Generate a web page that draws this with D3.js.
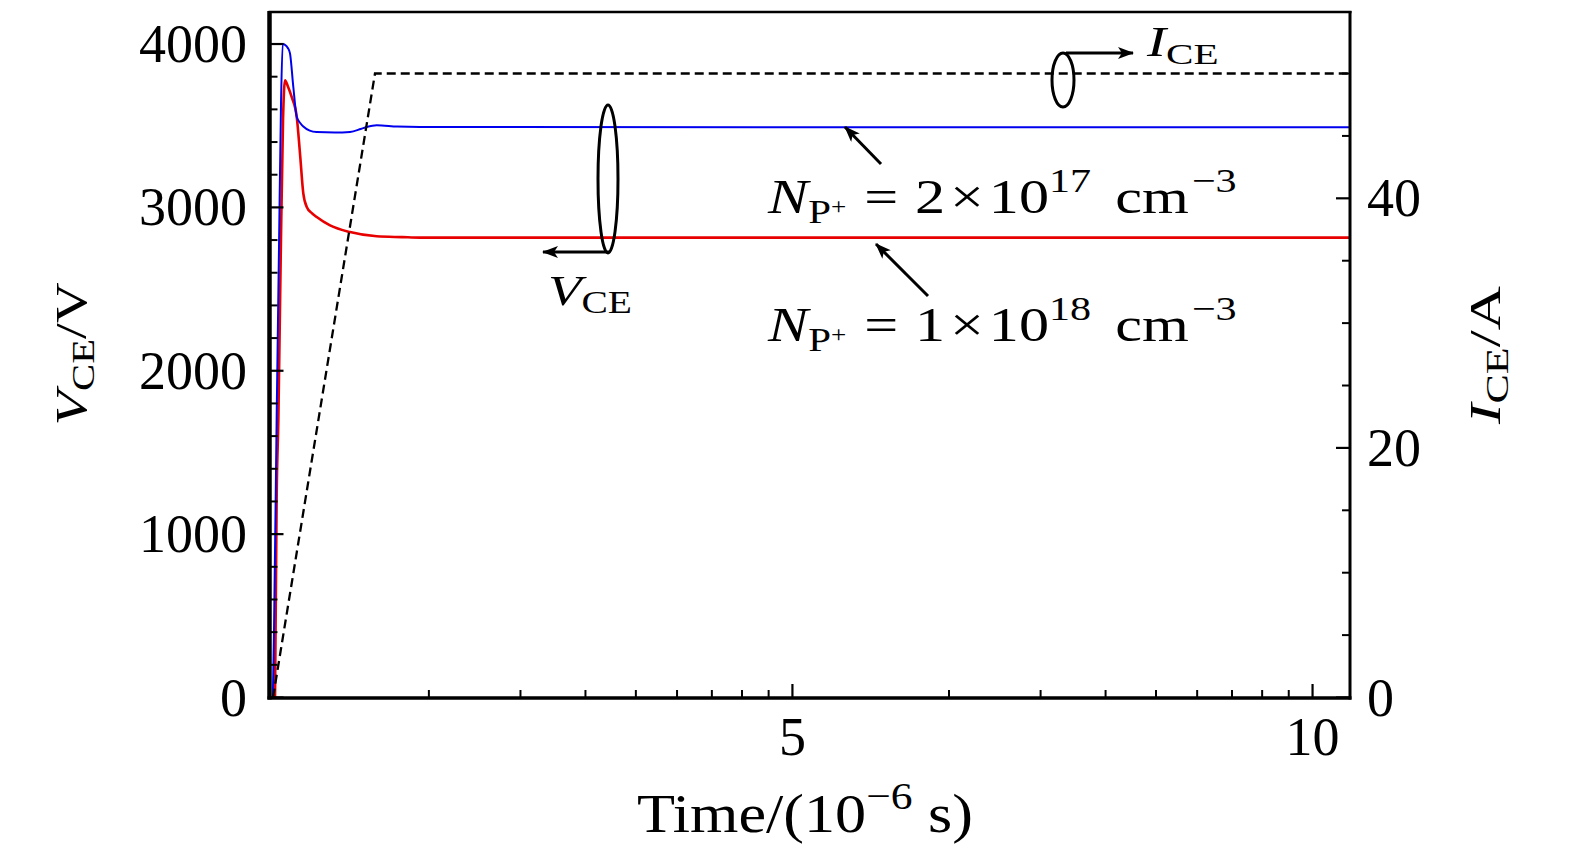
<!DOCTYPE html>
<html>
<head>
<meta charset="utf-8">
<script src="https://cdn.jsdelivr.net/npm/d3@7"></script>
<style>
  html, body { margin: 0; padding: 0; background: #fff; }
  svg { display: block; }
  text { font-family: "Liberation Serif", "Times New Roman", serif; fill: #000; }
</style>
</head>
<body>
<svg id="chart" width="1575" height="856"></svg>
<script>
// ---------------- DATA ----------------
// N_P+ = 2e17 cm^-3 (blue): time (us), V_CE (V)
const timeBlue = [0.005, 0.016, 0.042, 0.064, 0.084, 0.100, 0.150, 0.170, 0.202, 0.235, 0.270, 0.298, 0.360, 0.426, 0.600, 0.747, 0.850, 0.907, 1.004, 1.200, 1.420, 10.35];
const vceBlue  = [0,     390,   1720,  2740,  3650,  4000,  3975,  3943,  3737,  3553,  3515,  3495,  3470,  3461,  3458,  3462,  3480,  3492,  3503,  3495,  3492,  3490];
// N_P+ = 1e18 cm^-3 (red)
const timeRed  = [0.026, 0.042, 0.058, 0.081, 0.103, 0.122, 0.150, 0.186, 0.235, 0.266, 0.298, 0.331, 0.380, 0.427, 0.555, 0.747, 1.004, 1.250, 1.420, 10.35];
const vceRed   = [0,     1237,  1696,  2707,  3533,  3778,  3740,  3676,  3553,  3331,  3086,  3003,  2965,  2941,  2890,  2849,  2823,  2818,  2815,  2815];
// I_CE (dashed), A
const timeI    = [0.007, 0.987, 10.35];
const iCE      = [0,     50,    50];

const xTickValues = [5, 10];
const xTickLabels = ["5", "10"];
const yLeftTickValues = [0, 1000, 2000, 3000, 4000];
const yLeftTickLabels = ["0", "1000", "2000", "3000", "4000"];
const yRightTickValues = [0, 20, 40];
const yRightTickLabels = ["0", "20", "40"];

// ---------------- LAYOUT ----------------
const L = 269.5, R = 1350, T = 12, B = 698;
const svg = d3.select("#chart");

const x = d3.scaleLinear().domain([-0.027, 10.36]).range([L, R]);
const yL = d3.scaleLinear().domain([0, 4196]).range([697.5, T]);
const yR = d3.scaleLinear().domain([0, 54.93]).range([697.5, T]);
// minor ticks on the time axis follow a logarithmic pattern (as in the original figure)
const xLog = d3.scaleLog().domain([1, 100]).range([x(0), x(10)]);

const MAJ = 14, MIN = 8;

// ---------- curves ----------
const line = (xs, ys, sc) => d3.line()
  .x((d, i) => x(xs[i]))
  .y((d, i) => sc(ys[i]))
  .curve(d3.curveMonotoneX)(xs);

svg.append("path").attr("d", line(timeRed, vceRed, yL))
  .attr("fill", "none").attr("stroke", "#e80000").attr("stroke-width", 2.6);
svg.append("path").attr("d", line(timeBlue, vceBlue, yL))
  .attr("fill", "none").attr("stroke", "#0000ee").attr("stroke-width", 2);
svg.append("path").attr("d", d3.line().x((d,i)=>x(timeI[i])).y((d,i)=>yR(iCE[i]))(timeI))
  .attr("fill", "none").attr("stroke", "#000").attr("stroke-width", 2.3)
  .attr("stroke-dasharray", "9,5");

// ---------- axes ----------
const ax = svg.append("g");
const TICK_FS = 54;
// bottom
const xMinor = xLog.ticks().filter(v => ![1, 10, 100].includes(v));
ax.selectAll(".xmin").data(xMinor).enter().append("line")
  .attr("x1", d => xLog(d)).attr("x2", d => xLog(d))
  .attr("y1", B).attr("y2", B - MIN).attr("stroke", "#000").attr("stroke-width", 2);
ax.selectAll(".xmaj").data(xTickValues).enter().append("line")
  .attr("x1", d => x(d)).attr("x2", d => x(d))
  .attr("y1", B).attr("y2", B - MAJ).attr("stroke", "#000").attr("stroke-width", 2.2);
ax.selectAll(".xlab").data(xTickValues).enter().append("text")
  .attr("x", d => x(d)).attr("y", 755).attr("text-anchor", "middle")
  .attr("font-size", TICK_FS).text((d, i) => xTickLabels[i]);

// left
const yLMinor = d3.range(200, 4196, 200).filter(v => v % 1000 !== 0);
ax.selectAll(".ylmin").data(yLMinor).enter().append("line")
  .attr("x1", L).attr("x2", L + MIN).attr("y1", d => yL(d)).attr("y2", d => yL(d))
  .attr("stroke", "#000").attr("stroke-width", 2);
ax.selectAll(".ylmaj").data(yLeftTickValues).enter().append("line")
  .attr("x1", L).attr("x2", L + MAJ).attr("y1", d => yL(d)).attr("y2", d => yL(d))
  .attr("stroke", "#000").attr("stroke-width", 2.2);
ax.selectAll(".yllab").data(yLeftTickValues).enter().append("text")
  .attr("x", 247).attr("y", d => yL(d) + 18).attr("text-anchor", "end")
  .attr("font-size", TICK_FS).text((d, i) => yLeftTickLabels[i]);

// right
const yRMinor = d3.range(5, 54.93, 5).filter(v => v % 20 !== 0);
ax.selectAll(".yrmin").data(yRMinor).enter().append("line")
  .attr("x1", R).attr("x2", R - MIN).attr("y1", d => yR(d)).attr("y2", d => yR(d))
  .attr("stroke", "#000").attr("stroke-width", 2);
ax.selectAll(".yrmaj").data(yRightTickValues).enter().append("line")
  .attr("x1", R).attr("x2", R - MAJ).attr("y1", d => yR(d)).attr("y2", d => yR(d))
  .attr("stroke", "#000").attr("stroke-width", 2.2);
ax.selectAll(".yrlab").data(yRightTickValues).enter().append("text")
  .attr("x", 1367).attr("y", d => yR(d) + 18).attr("text-anchor", "start")
  .attr("font-size", TICK_FS).text((d, i) => yRightTickLabels[i]);

// frame
ax.append("line").attr("x1", L - 1).attr("x2", R + 1.5).attr("y1", T).attr("y2", T).attr("stroke", "#000").attr("stroke-width", 2.5);
ax.append("line").attr("x1", L - 2).attr("x2", R + 1.5).attr("y1", B).attr("y2", B).attr("stroke", "#000").attr("stroke-width", 3.5);
ax.append("line").attr("x1", L).attr("x2", L).attr("y1", T - 1).attr("y2", B + 1.5).attr("stroke", "#000").attr("stroke-width", 4.5);
ax.append("line").attr("x1", R).attr("x2", R).attr("y1", T - 1).attr("y2", B + 1.5).attr("stroke", "#000").attr("stroke-width", 3);

// ---------- math text helper ----------
const fitters = [];
function mathText(parent, px, py, parts, size, anchor, opts) {
  opts = opts || {};
  const t = parent.append("text").attr("x", px).attr("y", py)
    .attr("font-size", size).attr("text-anchor", anchor || "start");
  let cur = 0;
  parts.forEach(p => {
    const sh = (p.sh || 0) * size;
    t.append("tspan")
      .attr("dy", -(sh - cur))
      .attr("dx", (p.dx || 0) * size)
      .attr("font-size", (p.s || 1) * size)
      .attr("font-style", p.it ? "italic" : "normal")
      .text(p.t);
    cur = sh;
  });
  const fit = () => {
    let tr = opts.rotate ? `rotate(${opts.rotate},${px},${py}) ` : "";
    if (opts.width) {
      t.attr("transform", null);
      const w = t.node().getBBox().width;
      const s = w > 0 ? opts.width / w : 1;
      tr += `translate(${px},${py}) scale(${s},1) translate(${-px},${-py})`;
    }
    t.attr("transform", tr || null);
  };
  fit();
  fitters.push(fit);
  return t;
}

// axis titles
mathText(svg, 86, 354, [
  {t: "V", it: true}, {t: "CE", s: 0.72, sh: -0.18}, {t: "/V", sh: 0}
], 45, "middle", {rotate: -90, width: 143});
mathText(svg, 1500, 355, [
  {t: "I", it: true}, {t: "CE", s: 0.72, sh: -0.18}, {t: "/A", sh: 0}
], 45, "middle", {rotate: -90, width: 140});
mathText(svg, 805, 832, [
  {t: "Time/(10"}, {t: "−6", s: 0.7, sh: 0.42}, {t: "s)", sh: 0, dx: 0.25}
], 55, "middle", {width: 336});

// ---------- annotations ----------
const ann = svg.append("g");
const defs = svg.append("defs");
defs.append("marker").attr("id", "ah").attr("viewBox", "0 0 16 12")
  .attr("refX", 15).attr("refY", 6).attr("markerWidth", 16).attr("markerHeight", 12)
  .attr("markerUnits", "userSpaceOnUse").attr("orient", "auto")
  .append("path").attr("d", "M0,0 L16,6 L0,12 L4,6 Z").attr("fill", "#000");

// V_CE ellipse + arrow
ann.append("ellipse").attr("cx", 608).attr("cy", 179).attr("rx", 10).attr("ry", 74)
  .attr("fill", "none").attr("stroke", "#000").attr("stroke-width", 3);
ann.append("line").attr("x1", 609).attr("y1", 252).attr("x2", 543).attr("y2", 252)
  .attr("stroke", "#000").attr("stroke-width", 3).attr("marker-end", "url(#ah)");
mathText(ann, 548, 305, [
  {t: "V", it: true}, {t: "CE", s: 0.72, sh: -0.18}
], 43, "start", {width: 84});

// I_CE ellipse + arrow
ann.append("ellipse").attr("cx", 1063).attr("cy", 80).attr("rx", 11).attr("ry", 27)
  .attr("fill", "none").attr("stroke", "#000").attr("stroke-width", 3);
ann.append("line").attr("x1", 1066).attr("y1", 53).attr("x2", 1133).attr("y2", 53)
  .attr("stroke", "#000").attr("stroke-width", 3).attr("marker-end", "url(#ah)");
mathText(ann, 1147, 56, [
  {t: "I", it: true}, {t: "CE", s: 0.72, sh: -0.18}
], 42, "start", {width: 73});

// doping arrows
ann.append("line").attr("x1", 881).attr("y1", 164).attr("x2", 845).attr("y2", 127)
  .attr("stroke", "#000").attr("stroke-width", 3).attr("marker-end", "url(#ah)");
ann.append("line").attr("x1", 928).attr("y1", 296).attr("x2", 876).attr("y2", 244)
  .attr("stroke", "#000").attr("stroke-width", 3).attr("marker-end", "url(#ah)");

const npParts = (m, e) => [
  {t: "N", it: true}, {t: "P", s: 0.68, sh: -0.2}, {t: "+", s: 0.45, sh: -0.02},
  {t: "=", sh: 0, dx: 0.3}, {t: m, dx: 0.28}, {t: "×", dx: 0.08}, {t: "10", dx: 0.08},
  {t: e, s: 0.7, sh: 0.42}, {t: "cm", sh: 0, dx: 0.4}, {t: "−3", s: 0.7, sh: 0.42, dx: 0.05}
];
mathText(ann, 768, 213, npParts("2", "17"), 49, "start", {width: 470});
mathText(ann, 768, 341, npParts("1", "18"), 49, "start", {width: 470});

if (document.fonts && document.fonts.ready) {
  document.fonts.ready.then(() => fitters.forEach(f => f()));
}
</script>
</body>
</html>
